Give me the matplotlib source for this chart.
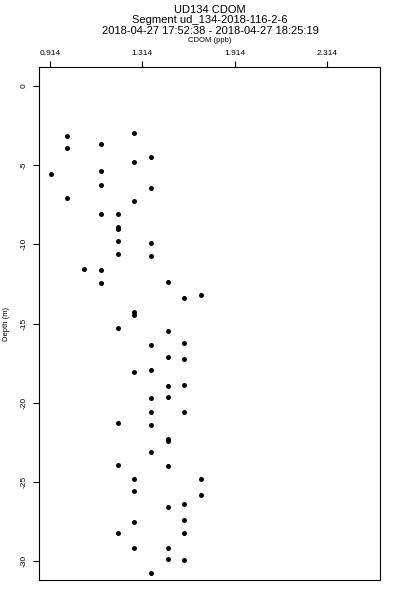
import matplotlib
matplotlib.use("Agg")
import matplotlib.pyplot as plt

plt.rcParams['font.family'] = ['Liberation Sans', 'DejaVu Sans']

cdom = [0.989, 0.989, 1.135, 1.279, 1.352, 0.918, 1.135, 1.279, 1.135, 1.352,
        0.989, 1.279, 1.135, 1.207, 1.207, 1.207, 1.207, 1.352, 1.207, 1.352,
        1.063, 1.135, 1.135, 1.424, 1.496, 1.568, 1.279, 1.279, 1.207, 1.424,
        1.496, 1.352, 1.424, 1.496, 1.279, 1.352, 1.424, 1.496, 1.352, 1.424,
        1.352, 1.496, 1.207, 1.352, 1.424, 1.424, 1.352, 1.207, 1.424, 1.279,
        1.568, 1.279, 1.568, 1.496, 1.424, 1.279, 1.496, 1.207, 1.496, 1.279,
        1.424, 1.424, 1.496, 1.352]
depth = [-3.14, -3.90, -3.68, -2.95, -4.47, -5.58, -5.35, -4.78, -6.27, -6.42,
         -7.08, -7.28, -8.07, -8.10, -8.88, -9.00, -9.81, -9.90, -10.63, -10.72,
         -11.54, -11.64, -12.46, -12.40, -13.37, -13.20, -14.26, -14.47, -15.31, -15.46,
         -16.22, -16.38, -17.10, -17.25, -18.05, -17.96, -18.95, -18.87, -19.73, -19.67,
         -20.61, -20.59, -21.31, -21.40, -22.27, -22.39, -23.10, -23.94, -23.99, -24.83,
         -24.81, -25.58, -25.83, -26.39, -26.58, -27.52, -27.42, -28.22, -28.22, -29.16,
         -29.16, -29.90, -29.96, -30.75]

x_ticks = [0.914, 1.314, 1.714, 2.114]
x_tick_labels = ['0.914', '1.314', '1.914', '2.314']
y_ticks = [0, -5, -10, -15, -20, -25, -30]

fig = plt.figure(figsize=(4, 6), dpi=100)
ax = fig.add_axes([0.0975, 0.0333, 0.8525, 0.855])

ax.plot(cdom, depth, 'o', color='black', markersize=3.6, markeredgewidth=0)

ax.set_xlim(0.866, 2.344)
ax.set_ylim(-31.2, 1.2)

ax.xaxis.tick_top()
ax.set_xticks(x_ticks)
ax.set_xticklabels(x_tick_labels)
ax.set_yticks(y_ticks)
ax.set_yticklabels([str(v) for v in y_ticks], rotation=90, va='center')
ax.tick_params(labelsize=6, length=4.5, width=0.8, pad=3)
ax.tick_params(axis='y', pad=4)
for s in ax.spines.values():
    s.set_linewidth(0.8)

ax.set_ylabel('Depth (m)', fontsize=5.5, labelpad=7)

fig.text(0.525, 0.984, 'UD134 CDOM', ha='center', va='center', fontsize=8)
fig.text(0.525, 0.966, 'Segment ud_134-2018-116-2-6', ha='center', va='center', fontsize=8)
fig.text(0.525, 0.948, '2018-04-27 17:52:38 - 2018-04-27 18:25:19', ha='center', va='center', fontsize=8)
fig.text(0.525, 0.933, 'CDOM (ppb)', ha='center', va='center', fontsize=5.5)

fig.savefig('out.png', dpi=100)
